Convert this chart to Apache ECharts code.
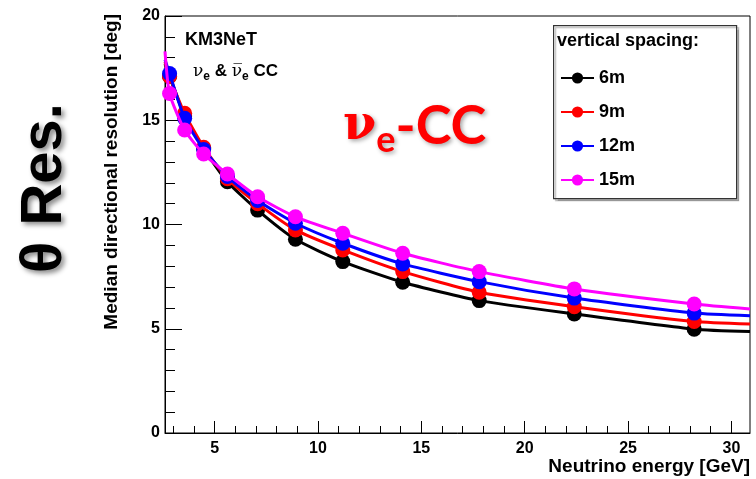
<!DOCTYPE html>
<html>
<head>
<meta charset="utf-8">
<script src="https://cdn.jsdelivr.net/npm/echarts@6/dist/echarts.min.js"></script>
<style>
  html, body { margin: 0; padding: 0; background: #fff; }
  #chart { width: 756px; height: 479px; }
</style>
</head>
<body>
<div id="chart"></div>
<script>
// 能量点 (GeV) 与各间距的中值角分辨率 (deg)
const energy = [2.82, 3.55, 4.47, 5.62, 7.08, 8.91, 11.2, 14.1, 17.8, 22.4, 28.2];
const res6m  = [17.1, 15.2, 13.65, 12.05, 10.69, 9.29, 8.22, 7.23, 6.35, 5.71, 4.98];
const res9m  = [17.1, 15.33, 13.7, 12.2, 11.0, 9.74, 8.78, 7.74, 6.75, 6.06, 5.35];
const res12m = [17.24, 15.09, 13.6, 12.3, 11.15, 10.06, 9.10, 8.11, 7.26, 6.47, 5.75];
const res15m = [16.28, 14.53, 13.38, 12.42, 11.33, 10.37, 9.58, 8.62, 7.74, 6.91, 6.19];
// 曲线在坐标框两端的延伸值
const edgeX = [2.6, 30.9];
const edge6m  = [17.7, 4.87];
const edge9m  = [17.8, 5.23];
const edge12m = [17.9, 5.62];
const edge15m = [18.3, 5.95];

const seriesNames = ['6m', '9m', '12m', '15m'];
const seriesValues = [res6m, res9m, res12m, res15m];
const seriesEdges = [edge6m, edge9m, edge12m, edge15m];
const colors = ['#000000', '#ff0000', '#0000ff', '#ff00ff'];

const xMajor = [5, 10, 15, 20, 25, 30];
const xMinor = [3, 4, 6, 7, 8, 9, 11, 12, 13, 14, 16, 17, 18, 19, 21, 22, 23, 24, 26, 27, 28, 29];

const chart = echarts.init(document.getElementById('chart'), null, { renderer: 'canvas' });

function buildData(vals, edges) {
    const d = [{ value: [edgeX[0], edges[0]], symbol: 'none' }];
    energy.forEach((e, i) => d.push([e, vals[i]]));
    d.push({ value: [edgeX[1], edges[1]], symbol: 'none' });
    return d;
}

const FONT = 'Liberation Sans, Arial, sans-serif';
const tickLabel = { color: '#000', fontFamily: FONT, fontWeight: 'bold', fontSize: 16 };

const option = {
    backgroundColor: '#ffffff',
    animation: false,
    grid: {
        left: 165, right: 6, top: 16, bottom: 46,
        show: true, borderColor: '#000', borderWidth: 1,
        containLabel: false, outerBoundsMode: 'none'
    },
    legend: {
        data: seriesNames,
        orient: 'vertical',
        left: 555, top: 64,
        itemWidth: 33, itemHeight: 14, itemGap: 16,
        textStyle: { color: '#000', fontFamily: FONT, fontWeight: 'bold', fontSize: 18 }
    },
    xAxis: [{
        type: 'value', min: edgeX[0], max: edgeX[1],
        axisLine: { show: true, lineStyle: { color: '#000' } },
        splitLine: { show: false },
        axisTick: { inside: true, length: 12, customValues: xMajor, lineStyle: { color: '#000' } },
        axisLabel: { ...tickLabel, margin: 8, customValues: xMajor }
    }, {
        type: 'value', min: edgeX[0], max: edgeX[1], position: 'bottom',
        axisLine: { show: false },
        splitLine: { show: false },
        axisTick: { inside: true, length: 7, customValues: xMinor, lineStyle: { color: '#000' } },
        axisLabel: { show: false }
    }],
    yAxis: {
        type: 'value', min: 0, max: 20, interval: 5,
        axisLine: { show: true, lineStyle: { color: '#000' } },
        splitLine: { show: false },
        axisTick: { inside: true, length: 17, lineStyle: { color: '#000' } },
        minorTick: { show: true, splitNumber: 5, length: 10, lineStyle: { color: '#000' } },
        axisLabel: { ...tickLabel, margin: 5 }
    },
    series: seriesNames.map((name, i) => ({
        name,
        type: 'line',
        data: buildData(seriesValues[i], seriesEdges[i]),
        smooth: 0.2,
        color: colors[i],
        symbol: 'circle',
        symbolSize: 15,
        lineStyle: { width: 3, color: colors[i] },
        itemStyle: { color: colors[i] },
        z: 2 + i
    })),
    graphic: [
        // 图例框
        {
            type: 'rect', left: 553, top: 25, z: 1,
            shape: { width: 183, height: 173 },
            style: { fill: '#fff', stroke: '#333', lineWidth: 1.2, shadowColor: 'rgba(0,0,0,0.25)', shadowOffsetX: 2, shadowOffsetY: 2, shadowBlur: 1 }
        },
        {
            type: 'text', left: 557, top: 32, z: 10,
            style: { text: 'vertical spacing:', fill: '#000', font: 'bold 18px ' + FONT }
        },
        // KM3NeT 标注
        {
            type: 'text', left: 185, top: 31, z: 10,
            style: { text: 'KM3NeT', fill: '#000', font: 'bold 18px ' + FONT }
        },
        {
            type: 'text', left: 193, top: 63, z: 10,
            style: {
                text: '{n|ν}{s|e}{t| & }{n|ν\u0305}{s|e}{t| CC}',
                rich: {
                    n: { fontFamily: 'DejaVu Serif', fontSize: 17, fill: '#000' },
                    s: { fontFamily: FONT, fontWeight: 'bold', fontSize: 12, padding: [10, 0, 0, 0], fill: '#000' },
                    t: { fontFamily: FONT, fontWeight: 'bold', fontSize: 17, fill: '#000' }
                }
            }
        },
        // 红色大字
        {
            type: 'text', left: 343, top: 100, z: 10,
            style: {
                text: '{n|ν}{s|e}{t|-CC}',
                textShadowColor: 'rgba(0,0,0,0.35)', textShadowBlur: 4, textShadowOffsetX: 2, textShadowOffsetY: 2,
                rich: {
                    n: { fontFamily: 'DejaVu Serif', fontWeight: 'bold', fontSize: 48, fill: '#ff0000' },
                    s: { fontFamily: 'Lato', fontWeight: 'bold', fontSize: 36, padding: [26, 0, 0, 0], fill: '#ff0000' },
                    t: { fontFamily: 'Lato', fontWeight: 'bold', fontSize: 54, fill: '#ff0000' }
                }
            }
        },
        // 左侧竖排标题
        {
            type: 'text', x: 45, y: 188, rotation: Math.PI / 2, z: 10,
            style: {
                text: 'θ Res.', fill: '#000', font: 'bold 58px ' + FONT,
                align: 'center', verticalAlign: 'middle',
                textShadowColor: 'rgba(0,0,0,0.45)', textShadowBlur: 5, textShadowOffsetX: 3, textShadowOffsetY: 3
            }
        },
        // 坐标轴标题
        {
            type: 'text', x: 112, y: 14, rotation: Math.PI / 2, z: 10,
            style: { text: 'Median directional resolution [deg]', fill: '#000', font: 'bold 19px ' + FONT, align: 'right', verticalAlign: 'middle' }
        },
        {
            type: 'text', x: 750, y: 467, z: 10,
            style: { text: 'Neutrino energy [GeV]', fill: '#000', font: 'bold 19px ' + FONT, align: 'right', verticalAlign: 'middle' }
        }
    ]
};

chart.setOption(option);
</script>
</body>
</html>
